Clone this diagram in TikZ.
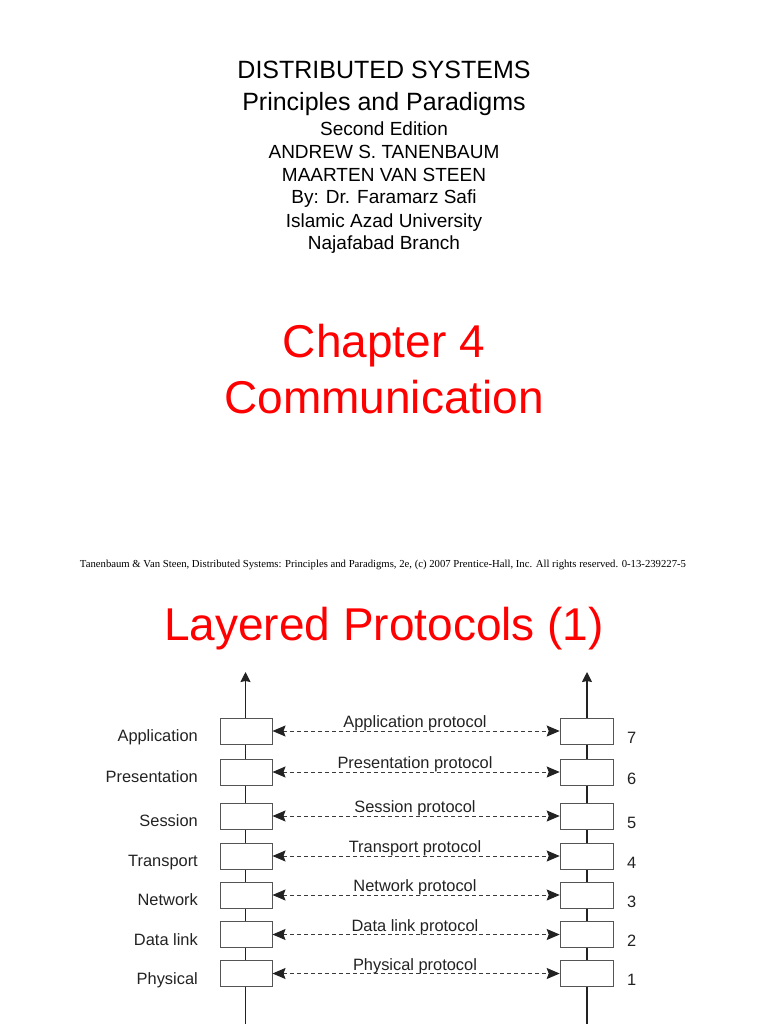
\documentclass[tikz,border=0pt]{standalone}
\usepackage{fontspec}
\setmainfont{Liberation Sans}
\newfontfamily\timesfont{Liberation Serif}
\usetikzlibrary{arrows.meta}
\definecolor{slidered}{HTML}{FF0000}
\definecolor{ink}{HTML}{222222}
\definecolor{boxline}{HTML}{555555}
\definecolor{dashink}{HTML}{3A3A3A}
\tikzset{
  titleA/.style={anchor=base, inner sep=0pt, font=\fontsize{25}{30}\selectfont},
  titleB/.style={anchor=base, inner sep=0pt, font=\fontsize{19}{23}\selectfont},
  bigred/.style={anchor=base, inner sep=0pt, text=slidered, font=\fontsize{46}{52}\selectfont},
  layerbox/.style={draw=boxline, line width=1pt, fill=white, minimum width=52pt, minimum height=26pt, inner sep=0pt},
  layername/.style={anchor=base east, inner sep=0pt, text=ink, font=\fontsize{16.4}{19}\selectfont},
  layernum/.style={anchor=base west, inner sep=0pt, text=ink, font=\fontsize{16.4}{19}\selectfont},
  protname/.style={anchor=base, inner sep=0pt, text=ink, font=\fontsize{16.4}{19}\selectfont},
  stack/.style={draw=ink, line width=1.3pt, -{Stealth[length=10pt,width=10pt,inset=1pt]}},
  protarrow/.style={draw=dashink, line width=1pt, dash pattern=on 4pt off 3pt,
    {Stealth[length=13pt,width=11pt,inset=2pt,color=ink]}-{Stealth[length=13pt,width=11pt,inset=2pt,color=ink]}}
}
\begin{document}
\begin{tikzpicture}[x=1pt,y=-1pt]
\useasboundingbox (0,0) rectangle (768,1024);
% title block
\node[titleA] (t1) at (384,79) {DISTRIBUTED SYSTEMS};
\node[titleA] (t2) at (384,111) {Principles and Paradigms};
\node[titleB] (t3) at (384,136) {Second Edition};
\node[titleB] (t4) at (384,159) {ANDREW S. TANENBAUM};
\node[titleB] (t5) at (384,182) {MAARTEN VAN STEEN};
\node[titleB] (t6) at (384,204) {By: Dr. Faramarz Safi};
\node[titleB] (t7) at (384,227) {Islamic Azad University};
\node[titleB] (t8) at (384,249) {Najafabad Branch};
\node[bigred] (ch1) at (384,357) {Chapter 4};
\node[bigred] (ch2) at (384,413) {Communication};
\node[anchor=base, inner sep=0pt] (copy) at (383,567) {\resizebox{606pt}{!}{\timesfont\fontsize{10}{12}\selectfont Tanenbaum \& Van Steen, Distributed Systems: Principles and Paradigms, 2e, (c) 2007 Prentice-Hall, Inc. All rights reserved. 0-13-239227-5}};
\node[bigred] (lp) at (384,640) {Layered Protocols (1)};
% stacks
\coordinate (Lbot) at (245.5,1024);
\coordinate (Ltop) at (245.5,672);
\coordinate (Rbot) at (587,1024);
\coordinate (Rtop) at (587,672);
\draw[stack] (Lbot) -- (Ltop);
\draw[stack] (Rbot) -- (Rtop);
\foreach \n/\c/\lname/\pname in {7/731/Application/Application protocol,
  6/772/Presentation/Presentation protocol,
  5/816/Session/Session protocol,
  4/856/Transport/Transport protocol,
  3/895/Network/Network protocol,
  2/934.5/Data link/Data link protocol,
  1/973.5/Physical/Physical protocol}{
  \node[layerbox] (L\n) at (246,\c) {};
  \node[layerbox, minimum width=53pt] (R\n) at (586.7,\c) {};
  \node[layername] (N\n) at (198,\c+10.7) {\lname};
  \node[layernum] (K\n) at (627,\c+12) {\n};
  \node[protname] (P\n) at (415,\c-3.5) {\pname};
  \draw[protarrow] (L\n.east) -- (R\n.west);
}
\end{tikzpicture}
\end{document}
